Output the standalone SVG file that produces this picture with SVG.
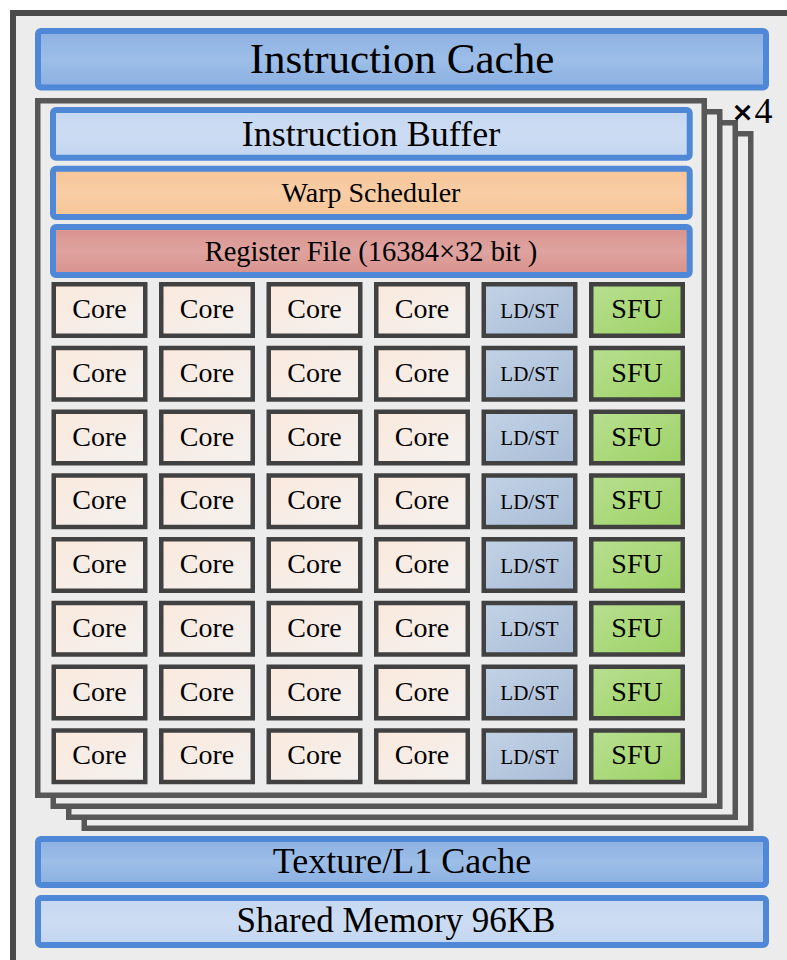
<svg xmlns="http://www.w3.org/2000/svg" width="787" height="960" viewBox="0 0 787 960">
  <defs>
    <linearGradient id="gDeep" x1="0" y1="0" x2="0" y2="1">
      <stop offset="0" stop-color="#8cb0e2"/>
      <stop offset="0.5" stop-color="#9dbee8"/>
      <stop offset="1" stop-color="#8aafe1"/>
    </linearGradient>
    <linearGradient id="gPale" x1="0" y1="0" x2="0" y2="1">
      <stop offset="0" stop-color="#c5d8f1"/>
      <stop offset="0.5" stop-color="#ccdcf3"/>
      <stop offset="1" stop-color="#c3d6f0"/>
    </linearGradient>
    <linearGradient id="gWarp" x1="0" y1="0" x2="0" y2="1">
      <stop offset="0" stop-color="#f7c597"/>
      <stop offset="0.5" stop-color="#f9cda5"/>
      <stop offset="1" stop-color="#f6c596"/>
    </linearGradient>
    <linearGradient id="gReg" x1="0" y1="0" x2="0" y2="1">
      <stop offset="0" stop-color="#d8928d"/>
      <stop offset="0.5" stop-color="#dfa39f"/>
      <stop offset="1" stop-color="#d8918c"/>
    </linearGradient>
    <linearGradient id="gCore" x1="0" y1="0" x2="1" y2="1">
      <stop offset="0" stop-color="#fbe9dc"/>
      <stop offset="1" stop-color="#f3f1f0"/>
    </linearGradient>
    <linearGradient id="gLdst" x1="0" y1="0" x2="1" y2="1">
      <stop offset="0" stop-color="#c3d3e6"/>
      <stop offset="1" stop-color="#a8bcd6"/>
    </linearGradient>
    <linearGradient id="gSfu" x1="0" y1="0" x2="1" y2="1">
      <stop offset="0" stop-color="#b8df90"/>
      <stop offset="1" stop-color="#9dd266"/>
    </linearGradient>
    <rect id="smFrame" x="37.75" y="100.75" width="666.5" height="694.5"/>
    <rect id="cell" x="0" y="0" width="91.5" height="51.5"/>
  </defs>
  <style>
    .bar { stroke: #4f88d6; stroke-width: 6; }
    .frame { fill: #ececec; stroke: #575757; stroke-width: 5.5; }
    .cellbox { stroke: #414141; stroke-width: 4.5; }
    .core { fill: url(#gCore); }
    .ldst { fill: url(#gLdst); }
    .sfu { fill: url(#gSfu); }
    text { font-family: "Liberation Serif", "Times New Roman", serif; fill: #000; text-anchor: middle; }
    text.times-sign { font-family: "DejaVu Sans", sans-serif; font-weight: bold; font-size: 27px; }
    .lbl-core { font-size: 28px; }
    .lbl-ldst { font-size: 21px; }
  </style>

  <!-- SM background and outer border (runs off the right and bottom edges) -->
  <rect x="13" y="13" width="800" height="980" fill="#ececec" stroke="#4a4a4a" stroke-width="6"/>

  <g id="instruction-cache">
    <rect class="bar" x="38" y="31" width="728" height="56.5" rx="3" fill="url(#gDeep)"/>
    <text x="402" y="73" font-size="43">Instruction Cache</text>
  </g>

  <!-- four stacked processing blocks, back to front -->
  <g id="processing-block-stack">
    <use href="#smFrame" class="frame" transform="translate(46.5 33)"/>
    <use href="#smFrame" class="frame" transform="translate(31 22)"/>
    <use href="#smFrame" class="frame" transform="translate(15.5 11)"/>
    <use href="#smFrame" class="frame"/>
  </g>
  <g id="multiplier">
    <text class="times-sign" x="742.5" y="121">×</text>
    <text x="763.5" y="123" font-size="36">4</text>
  </g>

  <g id="instruction-buffer">
    <rect class="bar" x="53" y="110" width="636.7" height="47.7" rx="3" fill="url(#gPale)"/>
    <text x="371" y="146" font-size="36">Instruction Buffer</text>
  </g>
  <g id="warp-scheduler">
    <rect class="bar" x="53" y="168.7" width="636.7" height="48.3" rx="3" fill="url(#gWarp)"/>
    <text x="371" y="202" font-size="28">Warp Scheduler</text>
  </g>
  <g id="register-file">
    <rect class="bar" x="53" y="227" width="636.7" height="48" rx="3" fill="url(#gReg)"/>
    <text x="371" y="261" font-size="28.5">Register File (16384×32 bit )</text>
  </g>

  <!-- execution units: 4 Core columns, LD/ST, SFU; 8 rows -->
  <g id="units">
    <g id="row-1" transform="translate(0 0)">
      <g id="core-1-1"><use href="#cell" class="cellbox core" x="53.75" y="284.25"/><text class="lbl-core" x="99.5" y="318">Core</text></g>
      <g id="core-1-2"><use href="#cell" class="cellbox core" x="161.25" y="284.25"/><text class="lbl-core" x="207" y="318">Core</text></g>
      <g id="core-1-3"><use href="#cell" class="cellbox core" x="268.75" y="284.25"/><text class="lbl-core" x="314.5" y="318">Core</text></g>
      <g id="core-1-4"><use href="#cell" class="cellbox core" x="376.25" y="284.25"/><text class="lbl-core" x="422" y="318">Core</text></g>
      <g id="ldst-1"><use href="#cell" class="cellbox ldst" x="483.75" y="284.25"/><text class="lbl-ldst" x="529.5" y="317.5">LD/ST</text></g>
      <g id="sfu-1"><use href="#cell" class="cellbox sfu" x="591.25" y="284.25"/><text class="lbl-core" x="637" y="318">SFU</text></g>
    </g>
    <g id="row-2" transform="translate(0 63.75)">
      <g id="core-2-1"><use href="#cell" class="cellbox core" x="53.75" y="284.25"/><text class="lbl-core" x="99.5" y="318">Core</text></g>
      <g id="core-2-2"><use href="#cell" class="cellbox core" x="161.25" y="284.25"/><text class="lbl-core" x="207" y="318">Core</text></g>
      <g id="core-2-3"><use href="#cell" class="cellbox core" x="268.75" y="284.25"/><text class="lbl-core" x="314.5" y="318">Core</text></g>
      <g id="core-2-4"><use href="#cell" class="cellbox core" x="376.25" y="284.25"/><text class="lbl-core" x="422" y="318">Core</text></g>
      <g id="ldst-2"><use href="#cell" class="cellbox ldst" x="483.75" y="284.25"/><text class="lbl-ldst" x="529.5" y="317.5">LD/ST</text></g>
      <g id="sfu-2"><use href="#cell" class="cellbox sfu" x="591.25" y="284.25"/><text class="lbl-core" x="637" y="318">SFU</text></g>
    </g>
    <g id="row-3" transform="translate(0 127.5)">
      <g id="core-3-1"><use href="#cell" class="cellbox core" x="53.75" y="284.25"/><text class="lbl-core" x="99.5" y="318">Core</text></g>
      <g id="core-3-2"><use href="#cell" class="cellbox core" x="161.25" y="284.25"/><text class="lbl-core" x="207" y="318">Core</text></g>
      <g id="core-3-3"><use href="#cell" class="cellbox core" x="268.75" y="284.25"/><text class="lbl-core" x="314.5" y="318">Core</text></g>
      <g id="core-3-4"><use href="#cell" class="cellbox core" x="376.25" y="284.25"/><text class="lbl-core" x="422" y="318">Core</text></g>
      <g id="ldst-3"><use href="#cell" class="cellbox ldst" x="483.75" y="284.25"/><text class="lbl-ldst" x="529.5" y="317.5">LD/ST</text></g>
      <g id="sfu-3"><use href="#cell" class="cellbox sfu" x="591.25" y="284.25"/><text class="lbl-core" x="637" y="318">SFU</text></g>
    </g>
    <g id="row-4" transform="translate(0 191.25)">
      <g id="core-4-1"><use href="#cell" class="cellbox core" x="53.75" y="284.25"/><text class="lbl-core" x="99.5" y="318">Core</text></g>
      <g id="core-4-2"><use href="#cell" class="cellbox core" x="161.25" y="284.25"/><text class="lbl-core" x="207" y="318">Core</text></g>
      <g id="core-4-3"><use href="#cell" class="cellbox core" x="268.75" y="284.25"/><text class="lbl-core" x="314.5" y="318">Core</text></g>
      <g id="core-4-4"><use href="#cell" class="cellbox core" x="376.25" y="284.25"/><text class="lbl-core" x="422" y="318">Core</text></g>
      <g id="ldst-4"><use href="#cell" class="cellbox ldst" x="483.75" y="284.25"/><text class="lbl-ldst" x="529.5" y="317.5">LD/ST</text></g>
      <g id="sfu-4"><use href="#cell" class="cellbox sfu" x="591.25" y="284.25"/><text class="lbl-core" x="637" y="318">SFU</text></g>
    </g>
    <g id="row-5" transform="translate(0 255)">
      <g id="core-5-1"><use href="#cell" class="cellbox core" x="53.75" y="284.25"/><text class="lbl-core" x="99.5" y="318">Core</text></g>
      <g id="core-5-2"><use href="#cell" class="cellbox core" x="161.25" y="284.25"/><text class="lbl-core" x="207" y="318">Core</text></g>
      <g id="core-5-3"><use href="#cell" class="cellbox core" x="268.75" y="284.25"/><text class="lbl-core" x="314.5" y="318">Core</text></g>
      <g id="core-5-4"><use href="#cell" class="cellbox core" x="376.25" y="284.25"/><text class="lbl-core" x="422" y="318">Core</text></g>
      <g id="ldst-5"><use href="#cell" class="cellbox ldst" x="483.75" y="284.25"/><text class="lbl-ldst" x="529.5" y="317.5">LD/ST</text></g>
      <g id="sfu-5"><use href="#cell" class="cellbox sfu" x="591.25" y="284.25"/><text class="lbl-core" x="637" y="318">SFU</text></g>
    </g>
    <g id="row-6" transform="translate(0 318.75)">
      <g id="core-6-1"><use href="#cell" class="cellbox core" x="53.75" y="284.25"/><text class="lbl-core" x="99.5" y="318">Core</text></g>
      <g id="core-6-2"><use href="#cell" class="cellbox core" x="161.25" y="284.25"/><text class="lbl-core" x="207" y="318">Core</text></g>
      <g id="core-6-3"><use href="#cell" class="cellbox core" x="268.75" y="284.25"/><text class="lbl-core" x="314.5" y="318">Core</text></g>
      <g id="core-6-4"><use href="#cell" class="cellbox core" x="376.25" y="284.25"/><text class="lbl-core" x="422" y="318">Core</text></g>
      <g id="ldst-6"><use href="#cell" class="cellbox ldst" x="483.75" y="284.25"/><text class="lbl-ldst" x="529.5" y="317.5">LD/ST</text></g>
      <g id="sfu-6"><use href="#cell" class="cellbox sfu" x="591.25" y="284.25"/><text class="lbl-core" x="637" y="318">SFU</text></g>
    </g>
    <g id="row-7" transform="translate(0 382.5)">
      <g id="core-7-1"><use href="#cell" class="cellbox core" x="53.75" y="284.25"/><text class="lbl-core" x="99.5" y="318">Core</text></g>
      <g id="core-7-2"><use href="#cell" class="cellbox core" x="161.25" y="284.25"/><text class="lbl-core" x="207" y="318">Core</text></g>
      <g id="core-7-3"><use href="#cell" class="cellbox core" x="268.75" y="284.25"/><text class="lbl-core" x="314.5" y="318">Core</text></g>
      <g id="core-7-4"><use href="#cell" class="cellbox core" x="376.25" y="284.25"/><text class="lbl-core" x="422" y="318">Core</text></g>
      <g id="ldst-7"><use href="#cell" class="cellbox ldst" x="483.75" y="284.25"/><text class="lbl-ldst" x="529.5" y="317.5">LD/ST</text></g>
      <g id="sfu-7"><use href="#cell" class="cellbox sfu" x="591.25" y="284.25"/><text class="lbl-core" x="637" y="318">SFU</text></g>
    </g>
    <g id="row-8" transform="translate(0 446.25)">
      <g id="core-8-1"><use href="#cell" class="cellbox core" x="53.75" y="284.25"/><text class="lbl-core" x="99.5" y="318">Core</text></g>
      <g id="core-8-2"><use href="#cell" class="cellbox core" x="161.25" y="284.25"/><text class="lbl-core" x="207" y="318">Core</text></g>
      <g id="core-8-3"><use href="#cell" class="cellbox core" x="268.75" y="284.25"/><text class="lbl-core" x="314.5" y="318">Core</text></g>
      <g id="core-8-4"><use href="#cell" class="cellbox core" x="376.25" y="284.25"/><text class="lbl-core" x="422" y="318">Core</text></g>
      <g id="ldst-8"><use href="#cell" class="cellbox ldst" x="483.75" y="284.25"/><text class="lbl-ldst" x="529.5" y="317.5">LD/ST</text></g>
      <g id="sfu-8"><use href="#cell" class="cellbox sfu" x="591.25" y="284.25"/><text class="lbl-core" x="637" y="318">SFU</text></g>
    </g>
  </g>

  <g id="texture-l1-cache">
    <rect class="bar" x="38" y="839" width="728" height="46" rx="3" fill="url(#gDeep)"/>
    <text x="402" y="873" font-size="36">Texture/L1 Cache</text>
  </g>
  <g id="shared-memory">
    <rect class="bar" x="38" y="898" width="728" height="47" rx="3" fill="url(#gPale)"/>
    <text x="396" y="932" font-size="35">Shared Memory 96KB</text>
  </g>

  <!-- no connectors in this block diagram -->
  <g id="connectors"/>
</svg>
